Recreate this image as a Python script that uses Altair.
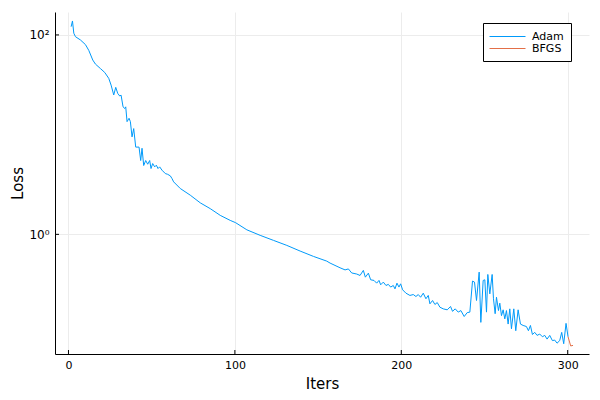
import altair as alt
import pandas as pd

# ---- data ----
adam_iter = [1.6, 2.4, 3.2, 4.2, 7.2, 10.2, 12.2, 14.6, 16.2, 19.2, 21.8, 24.2, 25.6, 27.2, 28.4,
             29.6, 30.8, 31.6, 32.8, 33.8, 34.4, 35.2, 36.4, 37.2, 38.2, 39.2, 40.4, 42.4, 43.4,
             44.2, 45.2, 46.4, 47.6, 48.8, 49.6, 50.6, 51.8, 52.8, 53.8, 54.8, 56.2, 58.2, 59.6,
             61.2, 62.2, 63.2, 67.2, 73.2, 79.2, 85.2, 91.2, 97.2, 100.4, 107.2, 115.2, 123.2,
             131.2, 139.2, 147.2, 155.2, 157.2, 163.2, 166.2, 168.2, 170.2, 173.2, 175.2, 177.2,
             178.4, 180.2, 181.6, 183.6, 185.2, 186.6, 187.6, 189.2, 190.8, 192.2, 193.6, 195.2,
             196.2, 197.4, 198.6, 199.6, 200.8, 202.8, 205.2, 207.2, 208.8, 210.2, 211.6, 213.2,
             214.8, 216.2, 217.2, 218.8, 220.2, 221.6, 223.2, 225.2, 227.6, 229.6, 230.8, 232.4,
             234.2, 235.8, 237.8, 239.6, 241.2, 242.8, 244.0, 245.2, 246.8, 247.8, 249.2, 250.2,
             251.2, 252.0, 253.2, 254.6, 255.4, 256.4, 257.2, 258.4, 259.2, 260.2, 261.2, 262.2,
             263.2, 264.2, 265.2, 266.2, 267.6, 268.8, 270.2, 271.6, 273.2, 275.2, 276.4, 277.6,
             278.8, 280.2, 281.6, 283.2, 284.8, 286.2, 287.6, 289.2, 290.8, 292.2, 293.6, 295.2,
             296.4, 297.6, 299.0, 300.2]
adam_loss = [121, 138, 104, 96, 89, 80, 70, 56, 51, 46, 42, 36.7, 31.4, 25, 29.8,
             25.9, 24.4, 24.9, 19, 18.3, 19, 13.5, 14.6, 13.5, 9.5, 11.5, 7.5, 7.5, 5.5,
             7.3, 4.9, 5.5, 5.05, 5.5, 4.57, 5.13, 4.75, 4.94, 4.57, 4.75, 4.4, 4.07, 4.0,
             3.86, 3.63, 3.36, 2.88, 2.47, 2.07, 1.81, 1.55, 1.38, 1.31, 1.11, 0.977, 0.87,
             0.775, 0.68, 0.601, 0.539, 0.515, 0.462, 0.44, 0.45, 0.41, 0.40, 0.387, 0.435,
             0.372, 0.408, 0.35, 0.345, 0.324, 0.345, 0.312, 0.332, 0.307, 0.315, 0.296, 0.307,
             0.284, 0.324, 0.296, 0.319, 0.278, 0.257, 0.244, 0.249, 0.238, 0.249, 0.234, 0.257,
             0.226, 0.244, 0.201, 0.217, 0.198, 0.207, 0.186, 0.179, 0.175, 0.189, 0.169, 0.179,
             0.166, 0.172, 0.15, 0.164, 0.166, 0.34, 0.332, 0.217, 0.418, 0.131, 0.345, 0.35,
             0.166, 0.396, 0.253, 0.396, 0.226, 0.16, 0.234, 0.172, 0.204, 0.153, 0.175, 0.142,
             0.172, 0.126, 0.179, 0.113, 0.179, 0.108, 0.175, 0.126, 0.122, 0.119, 0.108, 0.122,
             0.099, 0.104, 0.097, 0.1, 0.094, 0.097, 0.089, 0.097, 0.086, 0.087, 0.081, 0.086,
             0.104, 0.080, 0.128, 0.094]
bfgs_iter = [300.2, 301.8, 303.2]
bfgs_loss = [0.094, 0.076, 0.077]

series_names = ["Adam", "BFGS"]
series_colors = ["#009AFA", "#E36F47"]
x_ticks = [0, 100, 200, 300]
y_ticks = [1, 100]
x_domain = [-8.1, 312.8]
y_domain = [0.0631, 169.8]

FONT = "DejaVu Sans"
W, H = 534, 342

df = pd.DataFrame({
    "iter": adam_iter + bfgs_iter,
    "loss": adam_loss + bfgs_loss,
    "series": ["Adam"] * len(adam_iter) + ["BFGS"] * len(bfgs_iter),
})

xscale = alt.Scale(domain=x_domain, nice=False, zero=False)
yscale = alt.Scale(type="log", domain=y_domain, nice=False)

lines = alt.Chart(df).mark_line(strokeWidth=1, clip=True).encode(
    x=alt.X("iter:Q", scale=xscale,
            axis=alt.Axis(values=x_ticks, title="Iters", tickSize=0, labelPadding=5,
                          titlePadding=6, grid=True)),
    y=alt.Y("loss:Q", scale=yscale,
            axis=alt.Axis(values=y_ticks, title="Loss", tickSize=0, labelPadding=6,
                          titlePadding=3, grid=True, labelFontSize=12,
                          labelExpr="datum.value == 100 ? '10²' : '10⁰'")),
    color=alt.Color("series:N",
                    scale=alt.Scale(domain=series_names, range=series_colors),
                    legend=alt.Legend(title=None, orient="none", legendX=428, legendY=11,
                                      strokeColor="black", fillColor="white", padding=7,
                                      symbolType="M-3,0H3", symbolSize=144,
                                      symbolStrokeWidth=1, symbolOffset=11,
                                      labelOffset=18, rowPadding=0,
                                      labelFontSize=11, labelFont=FONT, labelColor="black",
                                      cornerRadius=0)),
    detail="series:N",
)

xt = alt.Chart(pd.DataFrame({"t": x_ticks})).mark_rule(color="black", strokeWidth=1).encode(
    x=alt.X("t:Q", scale=xscale), y=alt.value(H), y2=alt.value(H - 4))
yt = alt.Chart(pd.DataFrame({"t": y_ticks})).mark_rule(color="black", strokeWidth=1).encode(
    y=alt.Y("t:Q", scale=yscale), x=alt.value(0), x2=alt.value(4))

chart = alt.layer(lines, xt, yt).properties(
    width=W, height=H,
    autosize=alt.AutoSizeParams(type="none"),
    padding={"left": 47, "top": 4, "right": 3, "bottom": 38},
    background="white",
).configure_view(stroke=None).configure_axis(
    domainColor="black", domainWidth=1, gridColor="#ececec", gridWidth=1,
    labelFont=FONT, labelFontSize=11, labelColor="black",
    titleFont=FONT, titleFontSize=15, titleFontWeight="normal", titleColor="black",
)

chart.save("out.html", embed_options={"renderer": "svg", "actions": False})
